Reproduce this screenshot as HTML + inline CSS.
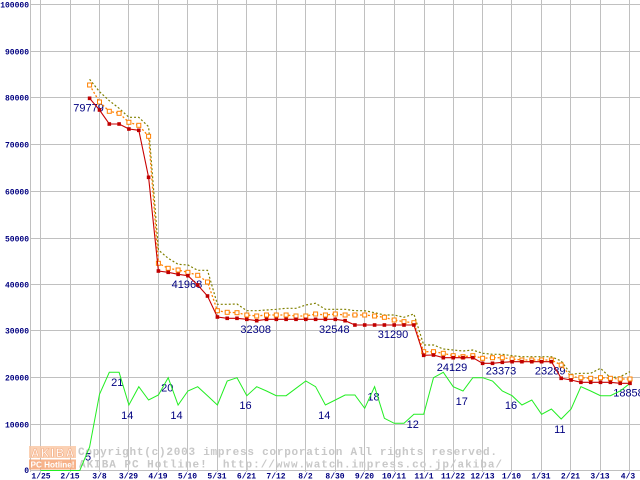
<!DOCTYPE html>
<html><head><meta charset="utf-8"><style>
html,body{margin:0;padding:0;background:#fff;}
svg{display:block;}
.yl{font-family:"Liberation Mono",monospace;font-weight:bold;font-size:8px;fill:#000080;}
.lb{font-family:"Liberation Sans",sans-serif;font-size:11px;fill:#000080;}
.wm{font-family:"Liberation Mono",monospace;font-weight:bold;font-size:11px;fill:#c8c8c8;}
</style></head><body>
<svg width="640" height="480" viewBox="0 0 640 480" xmlns="http://www.w3.org/2000/svg">
<defs>
<marker id="mr" markerWidth="6" markerHeight="6" refX="3" refY="3" markerUnits="userSpaceOnUse"><rect x="1.2" y="1.2" width="3.6" height="3.6" fill="#c00000" stroke="none"/></marker>
<marker id="mo" markerWidth="7" markerHeight="7" refX="3.5" refY="3.5" markerUnits="userSpaceOnUse"><rect x="1.5" y="1.5" width="4" height="4" fill="#fff" stroke="#ff8000" stroke-width="1" stroke-dasharray="none"/></marker>
</defs>
<rect width="640" height="480" fill="#fff"/>
<g stroke="#c0c0c0" stroke-width="1" shape-rendering="crispEdges">
<line x1="30.5" y1="0" x2="30.5" y2="472"/>
<line x1="40.5" y1="0" x2="40.5" y2="472"/><line x1="70.5" y1="0" x2="70.5" y2="472"/><line x1="99.5" y1="0" x2="99.5" y2="472"/><line x1="128.5" y1="0" x2="128.5" y2="472"/><line x1="158.5" y1="0" x2="158.5" y2="472"/><line x1="187.5" y1="0" x2="187.5" y2="472"/><line x1="217.5" y1="0" x2="217.5" y2="472"/><line x1="246.5" y1="0" x2="246.5" y2="472"/><line x1="276.5" y1="0" x2="276.5" y2="472"/><line x1="305.5" y1="0" x2="305.5" y2="472"/><line x1="335.5" y1="0" x2="335.5" y2="472"/><line x1="364.5" y1="0" x2="364.5" y2="472"/><line x1="394.5" y1="0" x2="394.5" y2="472"/><line x1="424.5" y1="0" x2="424.5" y2="472"/><line x1="453.5" y1="0" x2="453.5" y2="472"/><line x1="482.5" y1="0" x2="482.5" y2="472"/><line x1="511.5" y1="0" x2="511.5" y2="472"/><line x1="541.5" y1="0" x2="541.5" y2="472"/><line x1="570.5" y1="0" x2="570.5" y2="472"/><line x1="600.5" y1="0" x2="600.5" y2="472"/><line x1="629.5" y1="0" x2="629.5" y2="472"/>
<line x1="30" y1="4.5" x2="640" y2="4.5"/><line x1="30" y1="51.5" x2="640" y2="51.5"/><line x1="30" y1="97.5" x2="640" y2="97.5"/><line x1="30" y1="144.5" x2="640" y2="144.5"/><line x1="30" y1="191.5" x2="640" y2="191.5"/><line x1="30" y1="238.5" x2="640" y2="238.5"/><line x1="30" y1="284.5" x2="640" y2="284.5"/><line x1="30" y1="330.5" x2="640" y2="330.5"/><line x1="30" y1="377.5" x2="640" y2="377.5"/><line x1="30" y1="424.5" x2="640" y2="424.5"/><line x1="30" y1="470.5" x2="640" y2="470.5"/>
</g>
<g class="yl" text-anchor="end">
<text x="29" y="7.5">100000</text><text x="29" y="54.5">90000</text><text x="29" y="100.5">80000</text><text x="29" y="147.5">70000</text><text x="29" y="194.5">60000</text><text x="29" y="241.5">50000</text><text x="29" y="287.5">40000</text><text x="29" y="333.5">30000</text><text x="29" y="380.5">20000</text><text x="29" y="427.5">10000</text><text x="29" y="473">0</text>
</g>
<g class="yl" text-anchor="middle">
<text x="41" y="478.5">1/25</text><text x="70" y="478.5">2/15</text><text x="99.5" y="478.5">3/8</text><text x="128.5" y="478.5">3/29</text><text x="158" y="478.5">4/19</text><text x="187.5" y="478.5">5/10</text><text x="217" y="478.5">5/31</text><text x="246.5" y="478.5">6/21</text><text x="276" y="478.5">7/12</text><text x="305.5" y="478.5">8/2</text><text x="335" y="478.5">8/30</text><text x="364.5" y="478.5">9/20</text><text x="394" y="478.5">10/11</text><text x="424" y="478.5">11/1</text><text x="453" y="478.5">11/22</text><text x="482.5" y="478.5">12/13</text><text x="511.5" y="478.5">1/10</text><text x="541" y="478.5">1/31</text><text x="570.5" y="478.5">2/21</text><text x="600" y="478.5">3/13</text><text x="628" y="478.5">4/3</text>
</g>
<!-- watermark -->
<g opacity="0.85">
<rect x="29" y="446" width="47" height="12" fill="#fbc9a8"/>
<rect x="29" y="459.5" width="47" height="10" fill="#f6a677"/>
<text x="31" y="457" font-family="Liberation Sans,sans-serif" font-weight="bold" font-size="11.5" fill="#fff" stroke="#f3a070" stroke-width="0.6" textLength="43" lengthAdjust="spacing">AKIBA</text>
<text x="30.5" y="467.5" font-family="Liberation Sans,sans-serif" font-weight="bold" font-size="8" fill="#fff" textLength="44" lengthAdjust="spacingAndGlyphs">PC Hotline!</text>
</g>
<text class="wm" x="78" y="455" textLength="419" lengthAdjust="spacing">Copyright(c)2003 impress corporation All rights reserved.</text>
<text class="wm" x="79" y="467.5" textLength="423" lengthAdjust="spacing" xml:space="preserve">AKIBA PC Hotline!  http://www.watch.impress.co.jp/akiba/</text>
<!-- labels -->
<g class="lb" text-anchor="middle">
<text x="88.6" y="111.5">79779</text>
<text x="186.9" y="288">41968</text>
<text x="255.7" y="333">32308</text>
<text x="334.3" y="333">32548</text>
<text x="393" y="338">31290</text>
<text x="452" y="371">24129</text>
<text x="501" y="374.5">23373</text>
<text x="550.2" y="374.5">23289</text>
<text x="628.5" y="396.5">18858</text>
<text x="88" y="460.5">5</text>
<text x="117.3" y="386.2">21</text>
<text x="127.3" y="419">14</text>
<text x="167.3" y="391.6">20</text>
<text x="176.5" y="419">14</text>
<text x="245.5" y="409">16</text>
<text x="324.3" y="419">14</text>
<text x="373.5" y="400.6">18</text>
<text x="412.8" y="428.2">12</text>
<text x="461.8" y="405">17</text>
<text x="511" y="409">16</text>
<text x="559.8" y="433">11</text>
</g>
<!-- green: shops x1000 -->
<polyline fill="none" stroke="#22ee22" stroke-width="1" points="40.5,470.5 50.3,470.5 60.2,470.5 70,470.5 79.8,470.5 89.6,447 99.5,394.3 109.3,372.3 119.1,372.3 128.9,405 138.8,386.7 148.6,400 158.4,395 168.2,377.7 178.1,405 187.9,391 197.7,386.7 207.5,395.7 217.4,405 227.2,381 237,377.7 246.8,395.7 256.7,386.7 266.5,391 276.3,395.7 286.1,395.7 296,388.3 305.8,381 315.6,386.7 325.4,405 335.3,400 345.1,395 354.9,395 364.7,408.3 374.6,386.7 384.4,418.3 394.2,423.3 404,423.3 413.9,414.3 423.7,414.3 433.5,377.7 443.3,372.3 453.2,386.7 463,391 472.8,377.7 482.6,377.7 492.5,381 502.3,391 512.1,395.7 521.9,405 531.8,400 541.6,414.3 551.4,409 561.2,419 571.1,409 580.9,386.7 590.7,391 600.5,395.7 610.4,395.7 620.2,391 630,383.3"/>
<!-- olive: max -->
<polyline fill="none" stroke="#808000" stroke-width="1.2" stroke-dasharray="2 2" points="89.6,79.3 99.5,91.7 109.3,100.7 119.1,108.3 128.9,117.3 138.8,117.3 148.6,126.7 158.4,250 168.2,258.3 178.1,264.3 187.9,265 197.7,270.3 207.5,270.3 217.4,304.3 227.2,304.3 237,304 246.8,310.7 256.7,310.7 266.5,310 276.3,309.3 286.1,308.3 296,308.3 305.8,305 315.6,303.3 325.4,309.3 335.3,309.3 345.1,309.3 354.9,310.7 364.7,310.7 374.6,312.7 384.4,315 394.2,315 404,317.3 413.9,314 423.7,345 433.5,345 443.3,349 453.2,350 463,351 472.8,350 482.6,353.3 492.5,354.3 502.3,354.3 512.1,355.7 521.9,356.7 531.8,356.7 541.6,356.7 551.4,356.7 561.2,361 571.1,374.3 580.9,373.3 590.7,373.3 600.5,368.3 610.4,377.7 620.2,376.7 630,371.7"/>
<!-- orange: average -->
<polyline fill="none" stroke="#ff8000" stroke-width="1.3" stroke-dasharray="2 2" marker-start="url(#mo)" marker-mid="url(#mo)" marker-end="url(#mo)" points="89.6,85 99.5,102 109.3,111.3 119.1,113.3 128.9,122.3 138.8,125.3 148.6,136.3 158.4,263.3 168.2,268.3 178.1,270 187.9,272.3 197.7,275.3 207.5,282 217.4,310.7 227.2,312.3 237,312.7 246.8,315 256.7,316 266.5,315 276.3,315 286.1,315 296,316 305.8,316 315.6,314 325.4,315 335.3,314 345.1,315 354.9,315 364.7,315 374.6,316 384.4,317.3 394.2,320 404,321.7 413.9,322.7 423.7,351.7 433.5,351.7 443.3,353.3 453.2,355.7 463,356.7 472.8,355.7 482.6,358.3 492.5,357.7 502.3,357.7 512.1,359 521.9,360 531.8,360 541.6,360 551.4,360 561.2,365 571.1,376.7 580.9,377.7 590.7,378.3 600.5,377.7 610.4,378.3 620.2,379 630,379"/>
<!-- red: min -->
<polyline fill="none" stroke="#c80000" stroke-width="1.1" marker-start="url(#mr)" marker-mid="url(#mr)" marker-end="url(#mr)" points="89.6,98.3 99.5,110 109.3,124 119.1,124 128.9,129 138.8,130.3 148.6,177.3 158.4,271 168.2,272.3 178.1,274.3 187.9,275.7 197.7,285 207.5,296 217.4,317 227.2,318.3 237,318.3 246.8,319.3 256.7,320.7 266.5,319.3 276.3,319.3 286.1,319.3 296,319.3 305.8,319.3 315.6,319.3 325.4,319.3 335.3,319.3 345.1,320.7 354.9,325 364.7,325 374.6,325 384.4,325 394.2,325 404,325 413.9,325 423.7,355.3 433.5,355 443.3,357.7 453.2,357.7 463,357.7 472.8,357.7 482.6,363.3 492.5,363.3 502.3,362.3 512.1,361.7 521.9,361.7 531.8,361.7 541.6,361.7 551.4,361.7 561.2,378.3 571.1,380 580.9,382.3 590.7,382.3 600.5,382.3 610.4,382.3 620.2,383.3 630,383.3"/>
</svg>
</body></html>
